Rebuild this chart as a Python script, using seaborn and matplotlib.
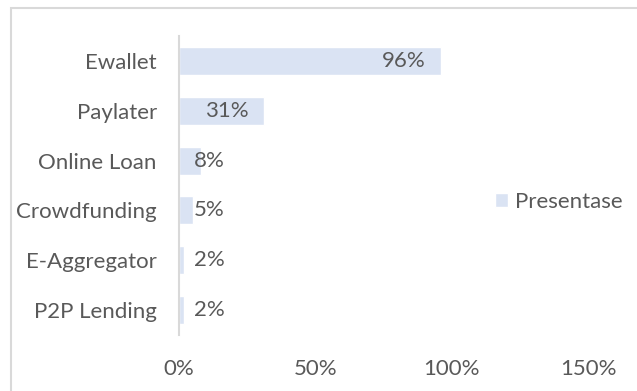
import pandas as pd
import matplotlib.pyplot as plt
import seaborn as sns
from matplotlib.patches import Rectangle
from matplotlib.ticker import PercentFormatter
from matplotlib.transforms import offset_copy

# data
categories = ['Ewallet', 'Paylater', 'Online Loan', 'Crowdfunding', 'E-Aggregator', 'P2P Lending']
presentase = [0.96, 0.31, 0.08, 0.05, 0.02, 0.02]
xticks = [0, 0.5, 1.0, 1.5]

df = pd.DataFrame({'Kategori': categories, 'Presentase': presentase})

sns.set_style('white')
plt.rcParams['font.family'] = ['Lato', 'DejaVu Sans']
text_color = '#595959'
bar_color = '#DAE3F3'
fs = 16

fig = plt.figure(figsize=(6.37, 3.91), dpi=100)
ax = fig.add_axes([179 / 637, 1 - 335 / 391, (588 - 179) / 637, (335 - 36) / 391])

sns.barplot(data=df, y='Kategori', x='Presentase', color=bar_color, width=0.56,
            saturation=1, ax=ax, label='Presentase')

ax.set_xlim(0, 1.5)
ax.set_xticks(xticks)
ax.xaxis.set_major_formatter(PercentFormatter(1.0, decimals=0))
ax.set_xlabel('')
ax.set_ylabel('')
ax.tick_params(axis='x', length=0, pad=17, labelsize=fs, labelcolor=text_color)
ax.tick_params(axis='y', length=0, pad=16, labelsize=fs, labelcolor=text_color)

for side in ['top', 'right', 'bottom']:
    ax.spines[side].set_visible(False)
ax.spines['left'].set_color('#D9D9D9')
ax.spines['left'].set_linewidth(1.5)

# data labels: inside end for long bars, just after the axis for short ones
for i, v in enumerate(presentase):
    label = f'{v * 100:.0f}%'
    if v > 0.2:
        tr = offset_copy(ax.transData, fig=fig, x=-15, y=0, units='dots')
        ax.text(v, i, label, transform=tr, ha='right', va='center', fontsize=fs, color=text_color)
    else:
        tr = offset_copy(ax.transData, fig=fig, x=15, y=0, units='dots')
        ax.text(0, i, label, transform=tr, ha='left', va='center', fontsize=fs, color=text_color)

leg = ax.legend(loc='center left', bbox_to_anchor=(495 / 637, 1 - 202 / 391),
                bbox_transform=fig.transFigure, frameon=False, fontsize=fs,
                borderaxespad=0, borderpad=0,
                handlelength=0.6, handleheight=0.6, handletextpad=0.3, labelcolor=text_color)

# chart area border (only top and left edges visible in the crop)
fig.patches.append(Rectangle((10.5 / 637, -0.1), 1.2, 1 - 8 / 391 + 0.1, transform=fig.transFigure,
                             fill=False, edgecolor='#D9D9D9', linewidth=1.5, zorder=0))

fig.savefig('out.png', dpi=100, facecolor='white')
